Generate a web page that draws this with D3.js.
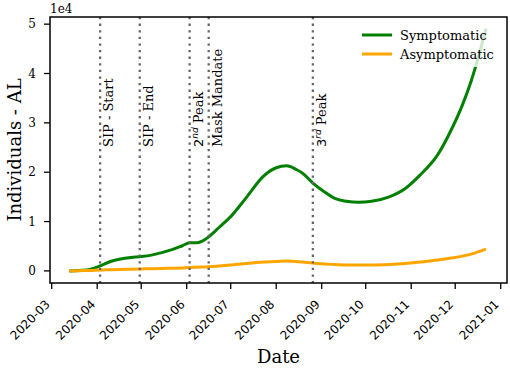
<!DOCTYPE html>
<html>
<head>
<meta charset="utf-8">
<script src="https://cdn.jsdelivr.net/npm/d3@7"></script>
<style>
  body { margin: 0; background: #fff; }
  svg { display: block; }
</style>
</head>
<body>
<svg id="chart"></svg>
<script>
// values in units of 1e4
const dates = [
  "2020-03-13", "2020-03-20", "2020-03-27", "2020-04-03", "2020-04-10", "2020-04-17",
  "2020-04-24", "2020-05-01", "2020-05-08", "2020-05-15", "2020-05-22", "2020-05-29",
  "2020-06-03", "2020-06-08", "2020-06-12", "2020-06-16", "2020-06-23", "2020-07-01",
  "2020-07-12", "2020-07-23", "2020-08-01", "2020-08-08", "2020-08-15", "2020-08-19",
  "2020-08-26", "2020-09-03", "2020-09-10", "2020-09-18", "2020-09-26", "2020-10-05",
  "2020-10-17", "2020-10-28", "2020-11-07", "2020-11-19", "2020-11-28", "2020-12-06",
  "2020-12-12", "2020-12-16", "2020-12-22"
];
const symptomatic = [
  0, 0.01, 0.03, 0.10, 0.19, 0.24,
  0.27, 0.29, 0.32, 0.37, 0.43, 0.51,
  0.57, 0.57, 0.61, 0.69, 0.88, 1.10,
  1.50, 1.91, 2.09, 2.13, 2.05, 1.98,
  1.78, 1.60, 1.47, 1.41, 1.39, 1.41,
  1.50, 1.67, 1.94, 2.35, 2.84, 3.37,
  3.86, 4.25, 4.91
];
const asymptomatic = [
  0, 0.005, 0.01, 0.02, 0.025, 0.03,
  0.035, 0.04, 0.045, 0.05, 0.055, 0.06,
  0.07, 0.075, 0.08, 0.085, 0.10, 0.12,
  0.15, 0.18, 0.19, 0.20, 0.19, 0.18,
  0.16, 0.14, 0.13, 0.12, 0.12, 0.12,
  0.13, 0.15, 0.18, 0.22, 0.26, 0.30,
  0.34, 0.38, 0.44
];
const events = [
  { date: "2020-04-03", label: "SIP - Start" },
  { date: "2020-04-30", label: "SIP - End" },
  { date: "2020-06-03", num: "2", sup: "nd", label: " Peak" },
  { date: "2020-06-16", label: "Mask Mandate" },
  { date: "2020-08-26", num: "3", sup: "rd", label: " Peak" }
];
const yTicks = [0, 1, 2, 3, 4, 5];
const xTicks = ["2020-03-01", "2020-04-01", "2020-05-01", "2020-06-01", "2020-07-01",
  "2020-08-01", "2020-09-01", "2020-10-01", "2020-11-01", "2020-12-01", "2021-01-01"];

const W = 510, H = 369;
const plot = { left: 50, right: 507, top: 17, bottom: 283 };
const serif = "DejaVu Serif";

const svg = d3.select("#chart").attr("width", W).attr("height", H);

const parse = d3.utcParse("%Y-%m-%d");
const x = d3.scaleUtc()
  .domain([new Date(Date.UTC(2020, 1, 28, 20, 10)), new Date(Date.UTC(2021, 0, 5, 7))])
  .range([plot.left, plot.right]);
const y = d3.scaleLinear().domain([-0.245, 5.145]).range([plot.bottom, plot.top]);

const line = (vals) => d3.line()
  .x((d, i) => x(parse(dates[i])))
  .y((d) => y(d))
  .curve(d3.curveMonotoneX)(vals);

svg.append("path").attr("d", line(symptomatic))
  .attr("fill", "none").attr("stroke", "#008000").attr("stroke-width", 3);
svg.append("path").attr("d", line(asymptomatic))
  .attr("fill", "none").attr("stroke", "#ffa500").attr("stroke-width", 3);

// event lines
events.forEach((e) => {
  const ex = x(parse(e.date));
  svg.append("line")
    .attr("x1", ex).attr("x2", ex).attr("y1", plot.top).attr("y2", plot.bottom)
    .attr("stroke", "#666").attr("stroke-width", 2.3)
    .attr("stroke-dasharray", "2.3,4.3");
  const t = svg.append("text")
    .attr("transform", `translate(${ex + 13},147) rotate(-90)`)
    .attr("font-family", serif).attr("font-size", 13).attr("fill", "#000");
  if (e.num) {
    t.append("tspan").attr("font-family", "DejaVu Sans").text(e.num);
    t.append("tspan").attr("font-family", "DejaVu Sans").attr("font-style", "italic")
      .attr("font-size", 9).attr("dy", -5).text(e.sup);
    t.append("tspan").attr("dy", 5).text(e.label);
  } else {
    t.text(e.label);
  }
});

// frame
svg.append("rect")
  .attr("x", plot.left).attr("y", plot.top)
  .attr("width", plot.right - plot.left).attr("height", plot.bottom - plot.top)
  .attr("fill", "none").attr("stroke", "#000").attr("stroke-width", 1.5);

// x axis
const xAxis = svg.append("g").attr("transform", `translate(0,${plot.bottom})`);
xTicks.forEach((d) => {
  const tx = x(parse(d));
  xAxis.append("line").attr("x1", tx).attr("x2", tx).attr("y1", 0).attr("y2", 6)
    .attr("stroke", "#000").attr("stroke-width", 1.3);
  xAxis.append("text")
    .attr("transform", `translate(${tx - 1},${22}) rotate(-45)`)
    .attr("text-anchor", "end")
    .attr("font-family", "DejaVu Sans").attr("font-size", 12)
    .text(d.slice(0, 7));
});

// y axis
const yAxis = svg.append("g");
yTicks.forEach((v) => {
  const ty = y(v);
  yAxis.append("line").attr("x1", plot.left - 6).attr("x2", plot.left).attr("y1", ty).attr("y2", ty)
    .attr("stroke", "#000").attr("stroke-width", 1.3);
  yAxis.append("text")
    .attr("x", plot.left - 14).attr("y", ty).attr("dy", "0.35em")
    .attr("text-anchor", "end")
    .attr("font-family", serif).attr("font-size", 12)
    .text(v);
});
svg.append("text").attr("x", plot.left).attr("y", 12.5)
  .attr("font-family", serif).attr("font-size", 12).text("1e4");

svg.append("text")
  .attr("transform", `translate(21,${(plot.top + plot.bottom) / 2}) rotate(-90)`)
  .attr("text-anchor", "middle")
  .attr("font-family", serif).attr("font-size", 18)
  .text("Individuals - AL");
svg.append("text")
  .attr("x", (plot.left + plot.right) / 2).attr("y", 363)
  .attr("text-anchor", "middle")
  .attr("font-family", serif).attr("font-size", 18)
  .text("Date");

// legend
const legend = svg.append("g");
legend.append("rect")
  .attr("x", 355).attr("y", 23).attr("width", 144).attr("height", 44).attr("rx", 3)
  .attr("fill", "#fff").attr("fill-opacity", 0.8);
[["Symptomatic", "#008000"], ["Asymptomatic", "#ffa500"]].forEach(([name, c], i) => {
  const ly = 35 + i * 19;
  legend.append("line").attr("x1", 362).attr("x2", 392).attr("y1", ly).attr("y2", ly)
    .attr("stroke", c).attr("stroke-width", 3);
  legend.append("text").attr("x", 400).attr("y", ly).attr("dy", "0.35em")
    .attr("font-family", serif).attr("font-size", 13).text(name);
});
</script>
</body>
</html>
